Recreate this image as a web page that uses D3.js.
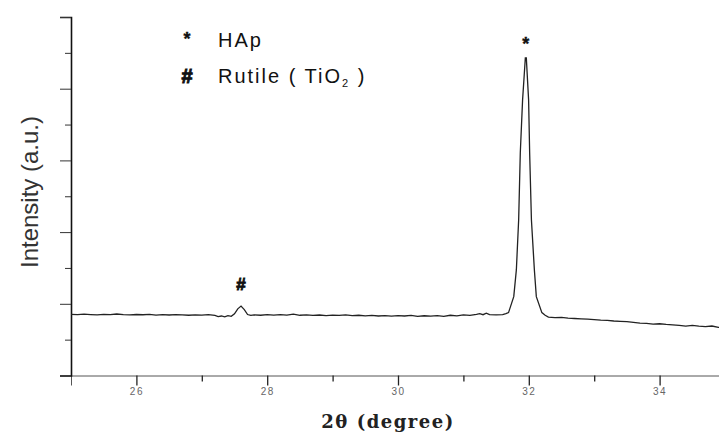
<!DOCTYPE html>
<html>
<head>
<meta charset="utf-8">
<script src="https://cdn.jsdelivr.net/npm/d3@7"></script>
<style>
    body { margin: 0; background: #fff; }
    svg { display: block; }
    .tick-label { font-family: 'Liberation Sans', Arial, sans-serif; font-size: 10px; fill: #666; letter-spacing: 1.5px; }
    .legend { font-family: 'Liberation Sans', Arial, sans-serif; font-size: 20px; fill: #111; }
</style>
</head>
<body>
<div id="chart"></div>
<script>
// 2theta (degree) and intensity (a.u.)
const twoTheta = [
    25.0, 25.1, 25.2, 25.3, 25.4, 25.5, 25.6, 25.7, 25.8, 25.9,
    26.0, 26.1, 26.2, 26.3, 26.4, 26.5, 26.6, 26.7, 26.8, 26.9,
    27.0, 27.1, 27.2, 27.25, 27.3, 27.35, 27.4, 27.45, 27.5, 27.55,
    27.6, 27.65, 27.7, 27.75, 27.8, 27.9, 28.0, 28.1, 28.2, 28.3,
    28.4, 28.5, 28.6, 28.7, 28.8, 28.9, 29.0, 29.1, 29.2, 29.3,
    29.4, 29.5, 29.6, 29.7, 29.8, 29.9, 30.0, 30.1, 30.2, 30.3,
    30.4, 30.5, 30.6, 30.7, 30.8, 30.9, 31.0, 31.1, 31.2, 31.25,
    31.3, 31.35, 31.4, 31.5, 31.6, 31.65, 31.69, 31.77, 31.81, 31.845,
    31.87, 31.905, 31.93, 31.947, 31.962, 31.997, 32.013, 32.04, 32.085, 32.115,
    32.2, 32.25, 32.3, 32.4, 32.5, 32.6, 32.7, 32.8, 32.9, 33.0,
    33.1, 33.2, 33.3, 33.4, 33.5, 33.6, 33.7, 33.8, 33.9, 34.0,
    34.1, 34.2, 34.3, 34.4, 34.5, 34.6, 34.7, 34.8, 34.9, 35.0
];
const intensity = [
    852, 848, 855, 850, 846, 852, 849, 858, 850, 845,
    851, 847, 853, 842, 848, 844, 850, 845, 840, 846,
    843, 848, 838, 822, 830, 818, 835, 826, 860, 930,
    968, 920, 850, 838, 845, 840, 848, 842, 850, 843,
    855, 840, 846, 838, 844, 836, 842, 838, 845, 835,
    840, 832, 838, 830, 836, 828, 834, 830, 838, 826,
    833, 828, 835, 826, 840, 832, 845, 838, 852, 862,
    848, 870, 850, 845, 850, 862, 877, 1100, 1476, 2173,
    3106, 3844, 4192, 4429, 4429, 3844, 3106, 2173, 1476, 1100,
    877, 840, 815, 808, 812, 800, 795, 790, 785, 778,
    772, 768, 760, 755, 750, 740, 730, 728, 716, 722,
    712, 705, 700, 690, 698, 688, 682, 690, 672, 668
];
const xTicks = [26, 28, 30, 32, 34];
const xMinorTicks = [27, 29, 31, 33];
const yTicks = [0, 1000, 2000, 3000, 4000, 5000];
const yMinorTicks = [500, 1500, 2500, 3500, 4500];
const peakMarks = [
    { label: "*", at: 31.955, value: 4429 },
    { label: "#", at: 27.6, value: 968 }
];
const legendItems = [
    { symbol: "*", text: "HAp" },
    { symbol: "#", text: "Rutile ( TiO", sub: "2", tail: " )" }
];

const width = 719, height = 434;
const margin = { left: 71, top: 17, bottom: 58 };

const svg = d3.select("#chart").append("svg")
    .attr("width", width)
    .attr("height", height);

const x = d3.scaleLinear().domain([25, 35]).range([margin.left, 725]);
const y = d3.scaleLinear().domain([0, 5000]).range([height - margin.bottom - 0.5, margin.top]);

const data = twoTheta.map((t, i) => ({ t: t, v: intensity[i] }));

// x axis
const xAxis = svg.append("g")
    .attr("transform", `translate(0,${y(0)})`)
    .call(d3.axisBottom(x).tickValues(xTicks).tickSize(10).tickFormat(d => d));
xAxis.select(".domain").attr("stroke", "#555");
xAxis.selectAll(".tick line").attr("stroke", "#222").attr("stroke-width", 1.3);
xAxis.selectAll(".tick text").attr("class", "tick-label").attr("dy", "0.9em").attr("y", 10);

svg.append("g")
    .attr("transform", `translate(0,${y(0)})`)
    .call(d3.axisBottom(x).tickValues(xMinorTicks).tickSize(6).tickFormat(""))
    .call(g => g.select(".domain").remove())
    .selectAll(".tick line").attr("stroke", "#222").attr("stroke-width", 1.3);

// y axis
const yAxis = svg.append("g")
    .attr("transform", `translate(${margin.left},0)`)
    .call(d3.axisLeft(y).tickValues(yTicks).tickSize(11).tickFormat(""));
yAxis.select(".domain").attr("stroke", "#111").attr("stroke-width", 1.6);
yAxis.selectAll(".tick line").attr("stroke", "#333");

svg.append("g")
    .attr("transform", `translate(${margin.left},0)`)
    .call(d3.axisLeft(y).tickValues(yMinorTicks).tickSize(6).tickFormat(""))
    .call(g => g.select(".domain").remove())
    .selectAll(".tick line").attr("stroke", "#333");

// pattern
const line = d3.line()
    .x(d => x(d.t))
    .y(d => y(d.v));

svg.append("path")
    .datum(data)
    .attr("fill", "none")
    .attr("stroke", "#222")
    .attr("stroke-width", 1.3)
    .attr("d", line);

// peak markers
svg.selectAll(".peak-mark")
    .data(peakMarks)
    .enter().append("text")
    .attr("class", "peak-mark")
    .attr("x", d => x(d.at))
    .attr("y", d => y(d.value) - (d.label === "*" ? 8 : 16))
    .attr("text-anchor", "middle")
    .style("font-family", "'Liberation Sans', Arial, sans-serif")
    .style("font-weight", "bold")
    .style("font-size", d => d.label === "*" ? "18px" : "17px")
    .style("fill", "#111")
    .style("stroke", "#111")
    .style("stroke-width", d => d.label === "*" ? 0.4 : 0.9)
    .text(d => d.label);

// legend
const legend = svg.append("g").attr("class", "legend");
legendItems.forEach((item, i) => {
    const by = 47 + i * 36;
    legend.append("text")
        .attr("x", 187)
        .attr("y", item.symbol === "*" ? by - 2 : by)
        .attr("text-anchor", "middle")
        .style("font-weight", "bold")
        .style("font-size", item.symbol === "*" ? "18px" : "20px")
        .style("stroke", "#111")
        .style("stroke-width", item.symbol === "*" ? 0.4 : 1)
        .text(item.symbol);
    const t = legend.append("text")
        .attr("x", 218)
        .attr("y", by)
        .attr("xml:space", "preserve")
        .style("white-space", "pre")
        .style("letter-spacing", "2px");
    t.append("tspan").text(item.text);
    if (item.sub) {
        t.append("tspan").attr("dy", 4).style("font-size", "11px").text(item.sub);
        t.append("tspan").attr("dy", -4).text(item.tail);
    }
});

// axis titles
svg.append("text")
    .attr("transform", `translate(38,192) rotate(-90)`)
    .attr("text-anchor", "middle")
    .style("font-family", "'Liberation Sans', Arial, sans-serif")
    .style("font-size", "24px")
    .style("fill", "#333")
    .text("Intensity (a.u.)");

svg.append("text")
    .attr("x", 388)
    .attr("y", 428)
    .attr("text-anchor", "middle")
    .style("font-family", "'DejaVu Serif', serif")
    .style("font-weight", "bold")
    .style("font-size", "18px")
    .style("letter-spacing", "1.5px")
    .style("fill", "#222")
    .text("2θ (degree)");
</script>
</body>
</html>
